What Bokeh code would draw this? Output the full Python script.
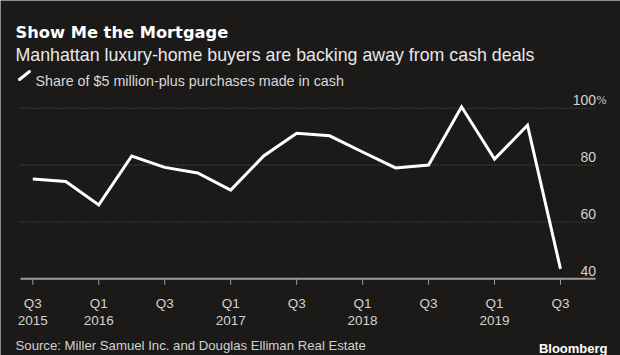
from bokeh.plotting import figure
from bokeh.models import Range1d, Label, Arrow, ColumnDataSource
from bokeh.core.properties import value
from bokeh.embed import file_html
from bokeh.resources import INLINE

# ---- data ----
title_text = "Show Me the Mortgage"
subtitle_text = "Manhattan luxury-home buyers are backing away from cash deals"
series_name = "Share of $5 million-plus purchases made in cash"
source_text = "Source: Miller Samuel Inc. and Douglas Elliman Real Estate"
brand_text = "Bloomberg"

quarters = ["2015 Q3", "2015 Q4", "2016 Q1", "2016 Q2", "2016 Q3", "2016 Q4",
            "2017 Q1", "2017 Q2", "2017 Q3", "2017 Q4", "2018 Q1", "2018 Q2",
            "2018 Q3", "2018 Q4", "2019 Q1", "2019 Q2", "2019 Q3"]
cash_share = [75.1, 74.2, 66.0, 83.2, 79.2, 77.2, 71.2, 83.2, 91.2, 90.3,
              84.6, 79.0, 80.0, 100.5, 82.1, 94.0, 43.5]

x_tick_quarters = ["2015 Q3", "2016 Q1", "2016 Q3", "2017 Q1", "2017 Q3",
                   "2018 Q1", "2018 Q3", "2019 Q1", "2019 Q3"]
x_tick_line1 = ["Q3", "Q1", "Q3", "Q1", "Q3", "Q1", "Q3", "Q1", "Q3"]
x_tick_line2 = ["2015", "2016", "", "2017", "", "2018", "", "2019", ""]
y_ticks = [40, 60, 80, 100]
y_tick_labels = ["40", "60", "80", "100"]
y_unit = "%"

# ---- layout (pixels of the 620x355 canvas) ----
W, H = 620, 355
PX_X0, PX_DX = 32.3, 32.98          # first quarter position, px per quarter
PX_Y_BASE, PX_PER_UNIT = 278.3, 2.843
PLOT_L, PLOT_R = 20, 595
Y_MIN = y_ticks[0]

def px_x(px):
    return (px - PX_X0) / PX_DX

def px_y(py):
    return Y_MIN + (PX_Y_BASE - py) / PX_PER_UNIT

BG = "#1c1a18"
FONT = "Liberation Sans"
LABEL_COLOR = "#d2d2d2"

xs = list(range(len(quarters)))
src = ColumnDataSource(dict(x=xs, y=cash_share, q=quarters))

p = figure(width=W, height=H,
           x_range=Range1d(px_x(0), px_x(W)), y_range=Range1d(px_y(H), px_y(0)),
           min_border=0, x_axis_location=None, y_axis_location=None,
           output_backend="svg", toolbar_location=None,
           background_fill_color=BG, border_fill_color=BG,
           outline_line_color=None)
p.grid.visible = False

# dotted gridlines
grid_vals = [t for t in y_ticks if t > Y_MIN]
p.segment(x0=[px_x(PLOT_L)] * len(grid_vals), x1=[px_x(PLOT_R)] * len(grid_vals),
          y0=grid_vals, y1=grid_vals, line_color="#666666", line_width=1,
          line_dash="1 2")

# x axis line, ticks and labels
p.segment(x0=[px_x(PLOT_L)], x1=[px_x(PLOT_R)], y0=[Y_MIN], y1=[Y_MIN],
          line_color="#9c9c9c", line_width=2)
tick_pos = [quarters.index(q) for q in x_tick_quarters]
p.segment(x0=tick_pos, x1=tick_pos, y0=[Y_MIN] * len(tick_pos),
          y1=[px_y(PX_Y_BASE + 6)] * len(tick_pos),
          line_color="#9c9c9c", line_width=1)
p.text(x=tick_pos, y=[px_y(303)] * len(tick_pos), text=x_tick_line1,
       text_align="center", text_baseline="alphabetic",
       text_font=value(FONT), text_font_size="13.5px", text_color=LABEL_COLOR)
p.text(x=tick_pos, y=[px_y(320)] * len(tick_pos), text=x_tick_line2,
       text_align="center", text_baseline="alphabetic",
       text_font=value(FONT), text_font_size="13.5px", text_color=LABEL_COLOR)

# series
p.line("x", "y", source=src, line_color="#ffffff", line_width=3, line_join="miter")

# y tick labels (right side, sitting above gridlines)
p.text(x=[px_x(595.5)] * len(y_ticks), y=y_ticks, y_offset=-8, text=y_tick_labels,
       text_align="right", text_baseline="alphabetic",
       text_font=value(FONT), text_font_size="14px", text_color=LABEL_COLOR)
p.text(x=[px_x(596)], y=[y_ticks[-1]], y_offset=-8, text=[y_unit],
       text_align="left", text_baseline="alphabetic",
       text_font=value("Liberation Sans Narrow"), text_font_size="12px",
       text_color=LABEL_COLOR)

# titles (screen units: origin bottom-left of canvas)
p.add_layout(Label(x=15, y=H - 31.7, x_units="screen", y_units="screen",
                   text=title_text, text_font="DejaVu Sans", text_font_style="bold",
                   text_font_size="16.3px", text_color="#ffffff",
                   text_baseline="alphabetic"))
p.add_layout(Label(x=15, y=H - 54, x_units="screen", y_units="screen",
                   text=subtitle_text, text_font=FONT,
                   text_font_size="17.8px", text_color="#e8e8e8",
                   text_baseline="alphabetic"))
# legend
p.add_layout(Arrow(end=None, x_start=19, y_start=H - 79, x_end=29, y_end=H - 71,
                   start_units="screen", end_units="screen",
                   line_color="#ffffff", line_width=3, line_cap="round"))
p.add_layout(Label(x=35, y=H - 80, x_units="screen", y_units="screen",
                   text=series_name, text_font=FONT,
                   text_font_size="14.3px", text_color="#d8d8d8",
                   text_baseline="alphabetic"))
# footer
p.add_layout(Label(x=15, y=H - 344.5, x_units="screen", y_units="screen",
                   text=source_text, text_font=FONT,
                   text_font_size="13.2px", text_color=LABEL_COLOR,
                   text_baseline="alphabetic"))
p.add_layout(Label(x=607, y=H - 347.5, x_units="screen", y_units="screen",
                   text=brand_text, text_font=FONT, text_font_style="bold",
                   text_font_size="13px", text_color="#ffffff",
                   text_align="right", text_baseline="alphabetic"))

open("out.html", "w").write(file_html(p, INLINE, title=title_text))
